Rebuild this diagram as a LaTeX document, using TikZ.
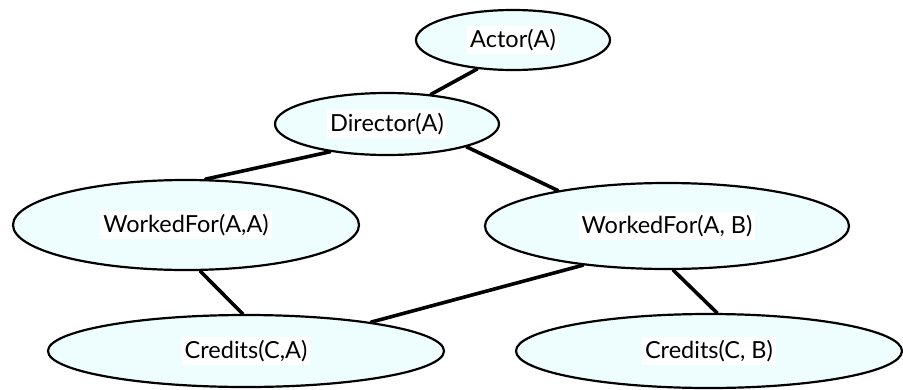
\documentclass[tikz,border=0pt]{standalone}
\usepackage{fontspec}
\setmainfont{Lato}
\usetikzlibrary{shapes.geometric,backgrounds}
\definecolor{nodefill}{RGB}{238,254,255}
\tikzset{
  pred/.style={ellipse, draw=black, line width=2.2pt, fill=nodefill, inner sep=0pt,
               font=\fontsize{23.5}{26}\selectfont},
  link/.style={line width=3.6pt, line cap=round}
}
\newcommand{\lbl}[1]{{\setlength{\fboxsep}{3pt}\colorbox{white}{#1}}}
\begin{document}
\begin{tikzpicture}[x=1pt,y=-1pt]
  \useasboundingbox (0,0) rectangle (903,389);
  \node[pred, minimum width=194pt, minimum height=60pt] (actor) at (513,40) {\lbl{Actor(A)}};
  \node[pred, minimum width=224pt, minimum height=62pt] (dir) at (387,124) {\lbl{Director(A)}};
  \node[pred, minimum width=346pt, minimum height=90pt] (wfaa) at (186,225) {\lbl{WorkedFor(A,A)}};
  \node[pred, minimum width=364pt, minimum height=86pt] (wfab) at (667,226) {\lbl{WorkedFor(A, B)}};
  \node[pred, minimum width=396pt, minimum height=72pt] (cca) at (246,351) {\lbl{Credits(C,A)}};
  \node[pred, minimum width=386pt, minimum height=74pt] (ccb) at (709,351) {\lbl{Credits(C, B)}};
  \begin{scope}[on background layer]
    \draw[link] (actor.219) -- (dir.34);
    \draw[link] (dir.206) -- (wfaa.67);
    \draw[link] (dir.344) -- (wfab.162);
    \draw[link] (wfaa.287) -- (cca.95);
    \draw[link] (wfab.205) -- (cca.13);
    \draw[link] (wfab.278) -- (ccb.78);
  \end{scope}
\end{tikzpicture}
\end{document}
